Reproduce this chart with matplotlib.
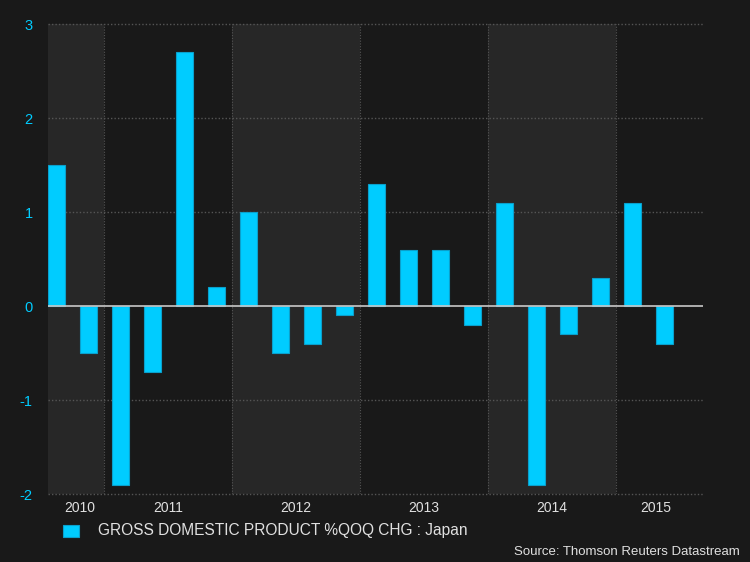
import matplotlib.pyplot as plt
import numpy as np

plt.rcParams["font.family"] = ["Liberation Sans", "DejaVu Sans"]

# Japan GDP %QoQ, 2010 Q3 .. 2015 Q2
gdp_qoq = [1.5, -0.5, -1.9, -0.7, 2.7, 0.2, 1.0, -0.5, -0.4, -0.1,
           1.3, 0.6, 0.6, -0.2, 1.1, -1.9, -0.3, 0.3, 1.1, -0.4]
years = ["2010", "2011", "2012", "2013", "2014", "2015"]
# year boundaries in quarter-index units (bar i starts at i)
year_edges = [0.0, 1.75, 5.75, 9.75, 13.75, 17.75, 20.47]
year_label_pos = [1.0, 3.75, 7.75, 11.75, 15.75, 19.0]
y_ticks = [-2, -1, 0, 1, 2, 3]

bg = "#191919"
band = "#272727"
cyan = "#00ccff"

fig = plt.figure(figsize=(7.5, 5.62), dpi=100, facecolor=bg)
ax = fig.add_axes([48 / 750, 1 - 494 / 562, 655 / 750, 470 / 562])
ax.set_facecolor(bg)

# alternating year bands
for k in range(len(years)):
    if k % 2 == 0:
        ax.axvspan(year_edges[k], year_edges[k + 1], color=band, lw=0, zorder=0)

x = np.arange(len(gdp_qoq))
ax.bar(x, gdp_qoq, width=0.53, align="edge", color=cyan,
       edgecolor="#0aa0cc", linewidth=0.8, zorder=2)

ax.axhline(0, color="#c8c8c8", lw=1.2, zorder=3)

for yv in y_ticks:
    if yv != 0:
        ax.axhline(yv, color="#555555", lw=1.0, ls=(0, (1, 1.5)), zorder=1,
                   clip_on=False)
for xe in year_edges[1:-1]:
    ax.axvline(xe, color="#555555", lw=0.8, ls=(0, (1, 1.5)), zorder=1)

ax.set_xlim(year_edges[0], year_edges[-1])
ax.set_ylim(-2, 3)
for s in ax.spines.values():
    s.set_visible(False)

ax.set_yticks(y_ticks)
ax.set_yticklabels([str(v) for v in y_ticks], color=cyan, fontsize=10.5)
ax.set_xticks(year_label_pos)
ax.set_xticklabels(years, color="#e0e0e0", fontsize=10)
ax.tick_params(length=0, pad=5)
ax.tick_params(axis="y", pad=11)

# legend
fig.patches.append(plt.Rectangle((63 / 750, 1 - 537 / 562), 16 / 750, 12 / 562,
                                 transform=fig.transFigure, facecolor=cyan,
                                 edgecolor="#0aa0cc", lw=0.8))
fig.text(98 / 750, 1 - 530 / 562, "GROSS DOMESTIC PRODUCT %QOQ CHG : Japan",
         color="#e0e0e0", fontsize=11.2, va="center", ha="left")
fig.text(740 / 750, 1 - 552 / 562, "Source: Thomson Reuters Datastream",
         color="#e0e0e0", fontsize=9.5, va="center", ha="right")

fig.savefig("out.png", dpi=100, facecolor=bg)
